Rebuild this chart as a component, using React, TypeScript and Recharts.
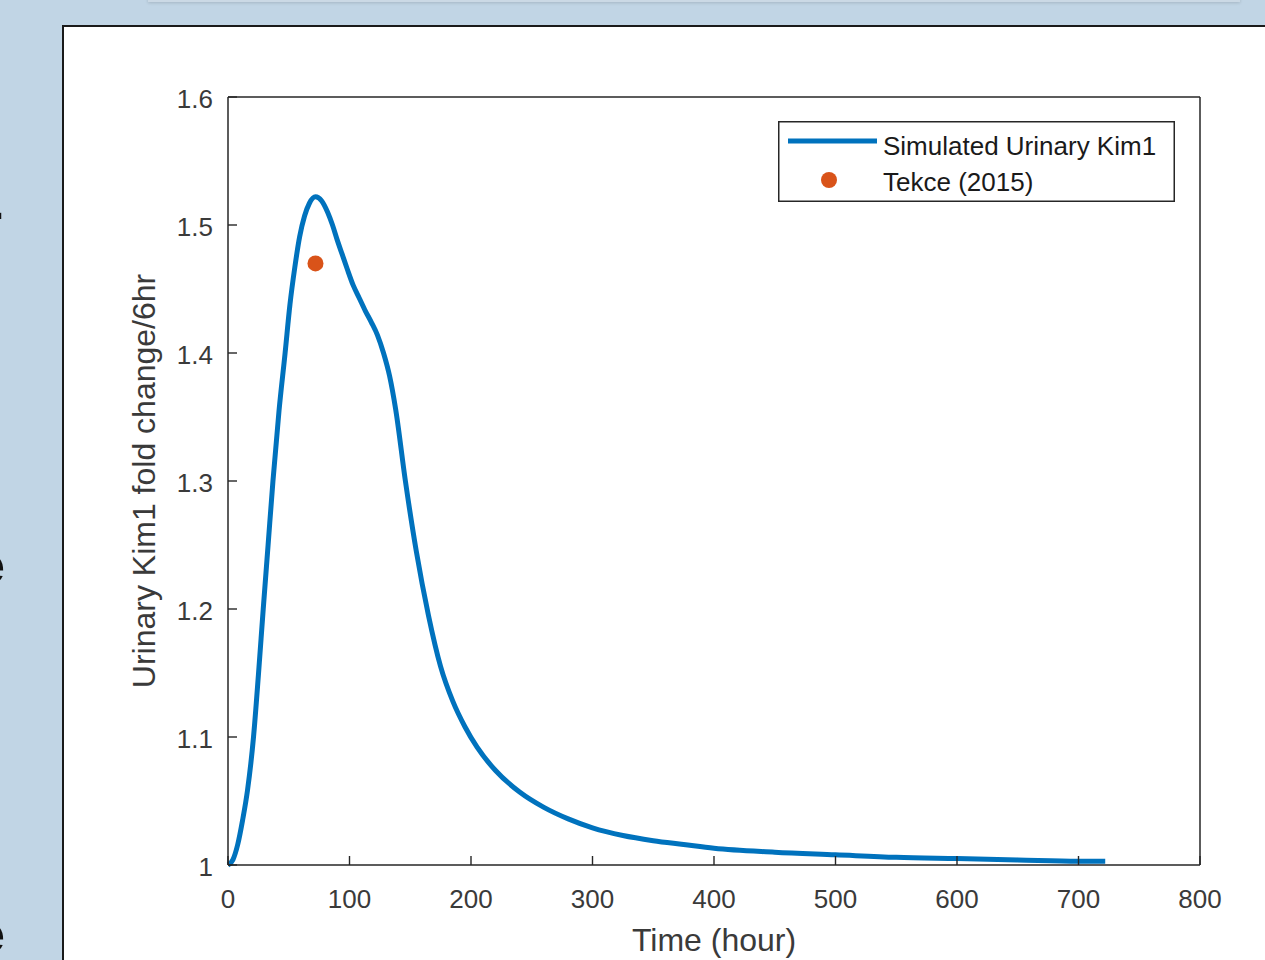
import React from 'react';
import { ComposedChart, Line, Scatter, XAxis, YAxis, Label, Legend } from 'recharts';

// simulated urinary Kim1 fold change (per 6 hr) against time in hours
const timeHours = [
  0, 4, 8, 12, 16, 21, 25, 29, 33, 37, 42, 47, 51, 55, 59, 63, 67, 72, 77, 82, 86, 90, 94, 98,
  103, 108, 113, 118, 123, 128, 133, 138, 146, 155, 165, 175, 185, 195, 205, 220, 240, 260, 280,
  300, 325, 350, 375, 400, 450, 500, 550, 600, 650, 700, 722,
];
const kim1Fold = [
  1.0, 1.004, 1.016, 1.035, 1.058, 1.1, 1.148, 1.2, 1.25, 1.3, 1.355, 1.4, 1.438, 1.467, 1.491,
  1.507, 1.517, 1.522, 1.519, 1.51, 1.5, 1.488, 1.477, 1.466, 1.453, 1.443, 1.433, 1.424, 1.414,
  1.4, 1.382, 1.356, 1.3, 1.245, 1.195, 1.155, 1.128, 1.108, 1.092, 1.074, 1.057, 1.045, 1.036,
  1.029, 1.023, 1.019, 1.016, 1.013, 1.01, 1.008, 1.006, 1.005, 1.004, 1.003, 1.003,
];

// Tekce (2015) observation
const tekceTime = [72];
const tekceFold = [1.47];

const xTicks = [0, 100, 200, 300, 400, 500, 600, 700, 800];
const yTicks = [1, 1.1, 1.2, 1.3, 1.4, 1.5, 1.6];
const seriesNames = ['Simulated Urinary Kim1', 'Tekce (2015)'];
const xTitle = 'Time (hour)';
const yTitle = 'Urinary Kim1 fold change/6hr';

const simulated = timeHours.map((t, i) => ({ t, v: kim1Fold[i] }));
const observed = tekceTime.map((t, i) => ({ t, v: tekceFold[i] }));

const FONT = '"Liberation Sans", Arial, Helvetica, sans-serif';
const BG = '#c1d5e5';
const AXIS = '#262626';
const TEXT = '#3a3a3a';
const LINE_COLOR = '#0072BD';
const DOT_COLOR = '#D95319';
const TICK_LEN = 9;

function BottomTick({ x, y, payload }: any) {
  return (
    <g>
      <line x1={x} y1={y} x2={x} y2={y - TICK_LEN} stroke={AXIS} strokeWidth={1.4} />
      <text x={x} y={y + 43} textAnchor="middle" fontSize={26} fill={TEXT} fontFamily={FONT}>
        {payload.value}
      </text>
    </g>
  );
}

function TopTick({ x, y }: any) {
  return <line x1={x} y1={y} x2={x} y2={y + TICK_LEN} stroke={AXIS} strokeWidth={1.4} />;
}

function LeftTick({ x, y, payload }: any) {
  return (
    <g>
      <line x1={x} y1={y} x2={x + TICK_LEN} y2={y} stroke={AXIS} strokeWidth={1.4} />
      <text x={x - 15} y={y + 11} textAnchor="end" fontSize={26} fill={TEXT} fontFamily={FONT}>
        {payload.value}
      </text>
    </g>
  );
}

function RightTick({ x, y }: any) {
  return <line x1={x} y1={y} x2={x - TICK_LEN} y2={y} stroke={AXIS} strokeWidth={1.4} />;
}

function LegendBox() {
  return (
    <svg width={397} height={81} style={{ display: 'block' }}>
      <rect x={0.75} y={0.75} width={395.5} height={79.5} fill="#fff" stroke={AXIS} strokeWidth={1.5} />
      <line x1={10} y1={20} x2={99} y2={20} stroke={LINE_COLOR} strokeWidth={5} />
      <circle cx={51} cy={59} r={8} fill={DOT_COLOR} />
      <text x={105} y={34} fontSize={26} fill="#1a1a1a" fontFamily={FONT}>
        {seriesNames[0]}
      </text>
      <text x={105} y={70} fontSize={26} fill="#1a1a1a" fontFamily={FONT}>
        {seriesNames[1]}
      </text>
    </svg>
  );
}

const edgeGlyph: React.CSSProperties = {
  position: 'absolute',
  fontSize: 52,
  fontWeight: 700,
  lineHeight: 1,
  color: '#111',
  fontFamily: FONT,
};

export default function App() {
  return (
    <div
      style={{
        position: 'fixed',
        left: 0,
        top: 0,
        width: 1265,
        height: 960,
        overflow: 'hidden',
        background: BG,
        fontFamily: FONT,
      }}
    >
      <div
        style={{
          position: 'absolute',
          left: 148,
          top: -12,
          width: 1092,
          height: 14,
          background: '#cbd9e5',
          boxShadow: '0 1px 3px rgba(0,0,0,0.15)',
        }}
      />
      {/* slide text cut off at the left edge, as in the reference */}
      <span style={{ ...edgeGlyph, left: -14, top: 185 }}>-</span>
      <span style={{ ...edgeGlyph, left: -24, top: 539 }}>e</span>
      <span style={{ ...edgeGlyph, left: -24, top: 908 }}>e</span>
      <div
        style={{
          position: 'absolute',
          left: 62,
          top: 25,
          width: 1203,
          height: 935,
          background: '#fff',
          borderLeft: '2px solid #1a1a1a',
          borderTop: '2px solid #1a1a1a',
          boxSizing: 'border-box',
        }}
      />
      <div style={{ position: 'absolute', left: 62, top: 25 }}>
        <ComposedChart width={1203} height={935} margin={{ top: 62, right: 55, bottom: 35, left: 66 }}>
          <XAxis
            dataKey="t"
            type="number"
            domain={[0, 800]}
            ticks={xTicks}
            interval={0}
            height={60}
            tickSize={0}
            tickMargin={0}
            tickLine={false}
            tick={BottomTick}
            axisLine={{ stroke: AXIS, strokeWidth: 1.5 }}
          >
            <Label
              value={xTitle}
              position="center"
              dy={45}
              fontSize={32}
              fill={TEXT}
              fontFamily={FONT}
            />
          </XAxis>
          <XAxis
            xAxisId="top"
            orientation="top"
            dataKey="t"
            type="number"
            domain={[0, 800]}
            ticks={xTicks}
            interval={0}
            height={10}
            tickSize={0}
            tickMargin={0}
            tickLine={false}
            tick={TopTick}
            axisLine={{ stroke: AXIS, strokeWidth: 1.5 }}
          />
          <YAxis
            type="number"
            domain={[1, 1.6]}
            ticks={yTicks}
            interval={0}
            width={100}
            tickSize={0}
            tickMargin={0}
            tickLine={false}
            tick={LeftTick}
            axisLine={{ stroke: AXIS, strokeWidth: 1.5 }}
          >
            <Label
              value={yTitle}
              position="center"
              angle={-90}
              dx={-34}
              fontSize={32}
              fill={TEXT}
              fontFamily={FONT}
            />
          </YAxis>
          <YAxis
            yAxisId="right"
            orientation="right"
            type="number"
            domain={[1, 1.6]}
            ticks={yTicks}
            interval={0}
            width={10}
            tickSize={0}
            tickMargin={0}
            tickLine={false}
            tick={RightTick}
            axisLine={{ stroke: AXIS, strokeWidth: 1.5 }}
          />
          <Line
            data={simulated}
            dataKey="v"
            name={seriesNames[0]}
            type="monotone"
            stroke={LINE_COLOR}
            strokeWidth={5}
            dot={false}
            activeDot={false}
            isAnimationActive={false}
          />
          <Scatter
            data={observed}
            dataKey="v"
            name={seriesNames[1]}
            fill={DOT_COLOR}
            shape={(p: any) => <circle cx={p.cx} cy={p.cy} r={8} fill={DOT_COLOR} />}
            isAnimationActive={false}
          />
          <Legend
            layout="horizontal"
            verticalAlign="middle"
            align="center"
            width={397}
            height={81}
            wrapperStyle={{ top: 96, left: 716 }}
            content={() => <LegendBox />}
          />
        </ComposedChart>
      </div>
    </div>
  );
}
